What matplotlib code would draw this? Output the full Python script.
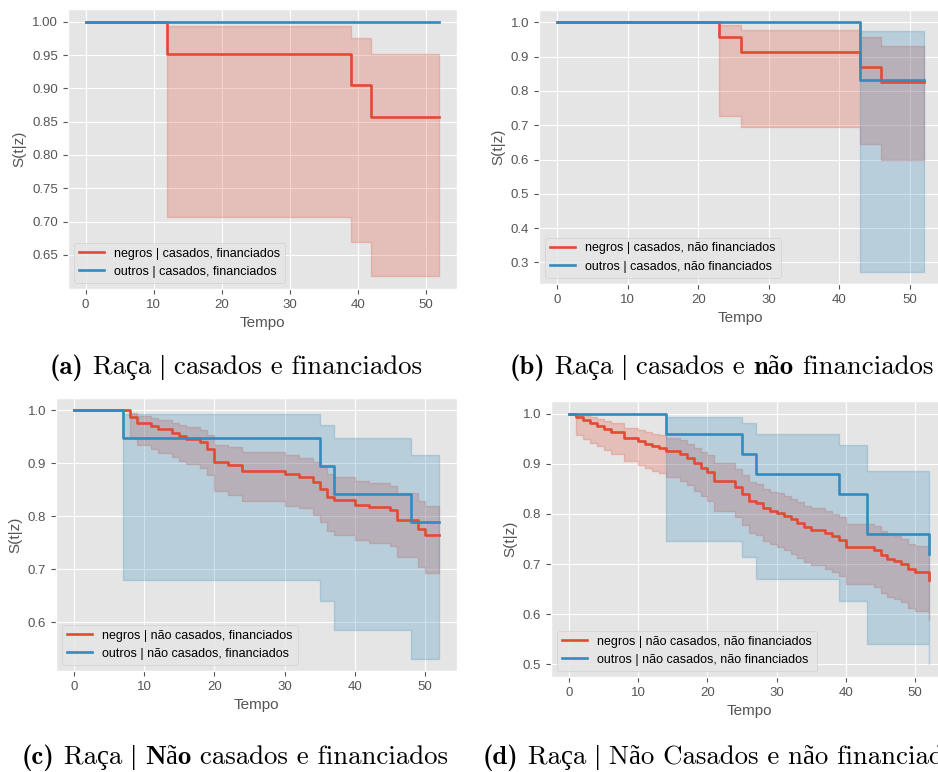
import matplotlib
matplotlib.use("Agg")
import matplotlib.pyplot as plt

plt.style.use("ggplot")
plt.rcParams["font.family"] = ["Liberation Sans", "DejaVu Sans"]
plt.rcParams["font.size"] = 9

RED = "#E24A33"
BLUE = "#348ABD"

# (a) casados, financiados
a_neg_t = [0, 12, 39, 42, 52]
a_neg_s = [1.0, 0.952, 0.905, 0.857, 0.857]
a_neg_hi = [1.0, 0.993, 0.975, 0.952, 0.952]
a_neg_lo = [1.0, 0.707, 0.669, 0.618, 0.618]
a_out_t = [0, 52]
a_out_s = [1.0, 1.0]
a_out_hi = [1.0, 1.0]
a_out_lo = [1.0, 1.0]

# (b) casados, não financiados
b_neg_t = [0, 23, 26, 43, 46, 52]
b_neg_s = [1.0, 0.957, 0.913, 0.870, 0.826, 0.826]
b_neg_hi = [1.0, 0.994, 0.979, 0.959, 0.932, 0.932]
b_neg_lo = [1.0, 0.728, 0.695, 0.645, 0.599, 0.599]
b_out_t = [0, 43, 52]
b_out_s = [1.0, 0.833, 0.833]
b_out_hi = [1.0, 0.974, 0.974]
b_out_lo = [1.0, 0.273, 0.273]

# (c) não casados, financiados
c_neg_t = [0, 8, 9, 11, 12, 14, 15, 16, 18, 19, 20, 22, 24, 30, 32, 34, 35, 36,
           37, 40, 42, 45, 46, 49, 50, 52]
c_neg_s = [1.0, 0.988, 0.976, 0.970, 0.964, 0.958, 0.952, 0.946, 0.940, 0.928,
           0.903, 0.897, 0.886, 0.879, 0.874, 0.864, 0.852, 0.836, 0.830, 0.822,
           0.817, 0.811, 0.793, 0.776, 0.764, 0.764]
c_neg_hi = [1.0, 0.996, 0.990, 0.986, 0.982, 0.977, 0.972, 0.968, 0.963, 0.953,
            0.935, 0.930, 0.921, 0.915, 0.911, 0.903, 0.893, 0.880, 0.874, 0.867,
            0.863, 0.858, 0.843, 0.828, 0.820, 0.820]
c_neg_lo = [1.0, 0.950, 0.934, 0.927, 0.920, 0.912, 0.905, 0.898, 0.891, 0.877,
            0.848, 0.841, 0.828, 0.820, 0.815, 0.803, 0.789, 0.772, 0.765, 0.756,
            0.750, 0.743, 0.723, 0.704, 0.692, 0.692]
c_out_t = [0, 7, 35, 37, 48, 52]
c_out_s = [1.0, 0.947, 0.895, 0.842, 0.789, 0.789]
c_out_hi = [1.0, 0.994, 0.972, 0.947, 0.915, 0.915]
c_out_lo = [1.0, 0.680, 0.640, 0.585, 0.531, 0.531]

# (d) não casados, não financiados
d_neg_t = [0, 1, 2, 3, 4, 5, 6, 8, 10, 11, 12, 13, 14, 16, 17, 18, 19, 20, 21,
           24, 25, 26, 27, 28, 29, 30, 31, 32, 33, 34, 35, 37, 38, 39, 40, 44,
           45, 46, 47, 48, 49, 50, 52]
d_neg_s = [1.0, 0.993, 0.988, 0.982, 0.976, 0.970, 0.963, 0.951, 0.945, 0.939,
           0.935, 0.931, 0.925, 0.919, 0.911, 0.901, 0.892, 0.884, 0.866, 0.854,
           0.840, 0.825, 0.821, 0.811, 0.805, 0.801, 0.796, 0.789, 0.781, 0.773,
           0.768, 0.761, 0.755, 0.748, 0.734, 0.728, 0.718, 0.711, 0.707, 0.701,
           0.691, 0.685, 0.668]
d_neg_hi = [1.0, 0.999, 0.997, 0.994, 0.990, 0.986, 0.981, 0.972, 0.968, 0.963,
            0.960, 0.957, 0.952, 0.947, 0.940, 0.932, 0.924, 0.917, 0.901, 0.890,
            0.877, 0.863, 0.859, 0.850, 0.844, 0.841, 0.836, 0.830, 0.823, 0.815,
            0.811, 0.805, 0.799, 0.793, 0.780, 0.775, 0.766, 0.759, 0.756, 0.750,
            0.741, 0.736, 0.720]
d_neg_lo = [1.0, 0.957, 0.950, 0.942, 0.935, 0.928, 0.919, 0.905, 0.898, 0.891,
            0.886, 0.881, 0.874, 0.866, 0.857, 0.845, 0.835, 0.826, 0.806, 0.793,
            0.778, 0.762, 0.757, 0.746, 0.740, 0.735, 0.729, 0.721, 0.713, 0.704,
            0.698, 0.691, 0.684, 0.676, 0.661, 0.654, 0.643, 0.635, 0.631, 0.624,
            0.613, 0.606, 0.588]
d_out_t = [0, 14, 25, 27, 39, 43, 52]
d_out_s = [1.0, 0.96, 0.92, 0.88, 0.84, 0.76, 0.72]
d_out_hi = [1.0, 0.994, 0.982, 0.960, 0.938, 0.885, 0.862]
d_out_lo = [1.0, 0.747, 0.715, 0.671, 0.626, 0.540, 0.500]

labels_a = ["negros | casados, financiados", "outros | casados, financiados"]
labels_b = ["negros | casados, não financiados", "outros | casados, não financiados"]
labels_c = ["negros | não casados, financiados", "outros | não casados, financiados"]
labels_d = ["negros | não casados, não financiados",
            "outros | não casados, não financiados"]

W, H = 938, 772
fig = plt.figure(figsize=(W / 100, H / 100), dpi=100)
fig.patch.set_facecolor("white")


def px_axes(x0, y0, x1, y1):
    return fig.add_axes([x0 / W, 1 - y1 / H, (x1 - x0) / W, (y1 - y0) / H])


def km(ax, t, s, lo, hi, color, label):
    ax.plot(t, s, drawstyle="steps-post", color=color, lw=1.9, label=label)
    ax.fill_between(t, lo, hi, step="post", color=color, alpha=0.25, lw=1.0)


panels = [
    (px_axes(68, 9, 457, 289),
     (a_neg_t, a_neg_s, a_neg_lo, a_neg_hi), (a_out_t, a_out_s, a_out_lo, a_out_hi),
     labels_a, [0.65, 0.70, 0.75, 0.80, 0.85, 0.90, 0.95, 1.00], "{:.2f}"),
    (px_axes(539, 10, 942, 284),
     (b_neg_t, b_neg_s, b_neg_lo, b_neg_hi), (b_out_t, b_out_s, b_out_lo, b_out_hi),
     labels_b, [0.3, 0.4, 0.5, 0.6, 0.7, 0.8, 0.9, 1.0], "{:.1f}"),
    (px_axes(56, 398, 457, 671),
     (c_neg_t, c_neg_s, c_neg_lo, c_neg_hi), (c_out_t, c_out_s, c_out_lo, c_out_hi),
     labels_c, [0.6, 0.7, 0.8, 0.9, 1.0], "{:.1f}"),
    (px_axes(551, 401, 947, 677),
     (d_neg_t, d_neg_s, d_neg_lo, d_neg_hi), (d_out_t, d_out_s, d_out_lo, d_out_hi),
     labels_d, [0.5, 0.6, 0.7, 0.8, 0.9, 1.0], "{:.1f}"),
]

for ax, neg, out, labels, yt, fmt in panels:
    km(ax, *neg, RED, labels[0])
    km(ax, *out, BLUE, labels[1])
    ax.set_xticks([0, 10, 20, 30, 40, 50])
    ax.set_yticks(yt)
    ax.set_yticklabels([fmt.format(v) for v in yt])
    ax.tick_params(labelsize=9.5)
    ax.set_xlabel("Tempo", fontsize=11)
    ax.set_ylabel("S(t|z)", fontsize=11)
    ax.legend(loc="lower left")

# captions below each panel
renderer = fig.canvas.get_renderer()
CAP_FS = 19.3
FAMILIES = {
    "r": ["cmr10", "Liberation Serif"],
    "b": ["cmb10", "Liberation Serif"],
    "p": ["Liberation Serif"],
}


def caption(x_px, base_px, parts):
    x = x_px
    for txt, style in parts:
        t = fig.text(x / W, 1 - base_px / H, txt, fontsize=CAP_FS,
                     family=FAMILIES[style], va="baseline", ha="left",
                     color="black")
        x += t.get_window_extent(renderer).width


caption(50, 374, [("(a)", "b"), (" Raça ", "r"), ("|", "p"),
                  (" casados e financiados", "r")])
caption(510, 374, [("(b)", "b"), (" Raça ", "r"), ("|", "p"),
                   (" casados e ", "r"), ("não", "b"), (" financiados", "r")])
caption(22, 764, [("(c)", "b"), (" Raça ", "r"), ("|", "p"), (" ", "r"),
                  ("Não", "b"), (" casados e financiados", "r")])
caption(483, 764, [("(d)", "b"), (" Raça ", "r"), ("|", "p"),
                   (" Não Casados e não financiados", "r")])

fig.savefig("out.png", dpi=100, facecolor="white")
